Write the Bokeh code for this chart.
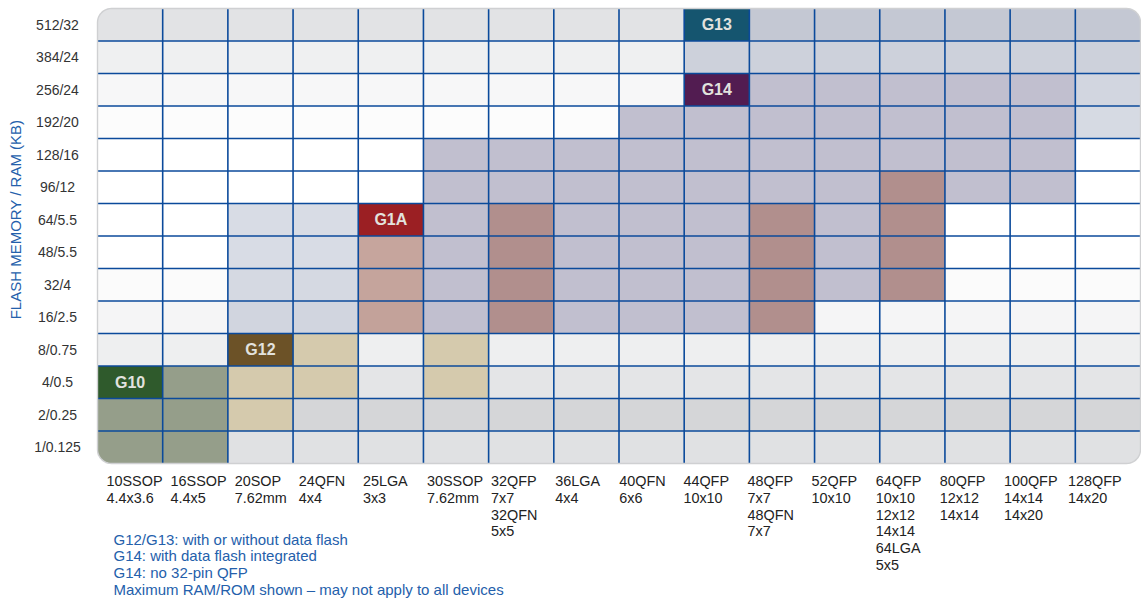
from bokeh.plotting import figure
from bokeh.models import ColumnDataSource, Range1d
from bokeh.embed import file_html
from bokeh.resources import INLINE
from bokeh.core.properties import value
import math

# ---------------- data ----------------
packages = ["10SSOP", "16SSOP", "20SOP", "24QFN", "25LGA", "30SSOP", "32QFP", "36LGA",
            "40QFN", "44QFP", "48QFP", "52QFP", "64QFP", "80QFP", "100QFP", "128QFP"]
package_sizes = ["4.4x3.6", "4.4x5", "7.62mm", "4x4", "3x3", "7.62mm", "7x7\n32QFN\n5x5", "4x4",
                 "6x6", "10x10", "7x7\n48QFN\n7x7", "10x10", "10x10\n12x12\n14x14\n64LGA\n5x5",
                 "12x12\n14x14", "14x14\n14x20", "14x20"]
memory = ["1/0.125", "2/0.25", "4/0.5", "8/0.75", "16/2.5", "32/4", "48/5.5", "64/5.5",
          "96/12", "128/16", "192/20", "256/24", "384/24", "512/32"]

# family coverage: package, lowest memory, highest memory
g10_pkg = ["10SSOP", "16SSOP"]
g10_lo = ["1/0.125", "1/0.125"]
g10_hi = ["4/0.5", "4/0.5"]

g12_pkg = ["20SOP", "24QFN", "30SSOP"]
g12_lo = ["2/0.25", "4/0.5", "4/0.5"]
g12_hi = ["8/0.75", "8/0.75", "8/0.75"]

g13_pkg = ["20SOP", "24QFN", "44QFP", "48QFP", "52QFP", "64QFP", "80QFP", "100QFP", "128QFP"]
g13_lo = ["16/2.5", "16/2.5", "384/24", "384/24", "384/24", "384/24", "384/24", "384/24", "192/20"]
g13_hi = ["64/5.5", "64/5.5", "512/32", "512/32", "512/32", "512/32", "512/32", "512/32", "512/32"]

g14_pkg = ["30SSOP", "32QFP", "36LGA", "40QFN", "44QFP", "48QFP", "52QFP", "64QFP", "80QFP", "100QFP"]
g14_lo = ["16/2.5", "16/2.5", "16/2.5", "16/2.5", "16/2.5", "16/2.5", "32/4", "32/4", "96/12", "96/12"]
g14_hi = ["128/16", "128/16", "128/16", "192/20", "256/24", "256/24", "256/24", "256/24", "256/24", "256/24"]

g1a_pkg = ["25LGA", "32QFP", "48QFP", "64QFP"]
g1a_lo = ["16/2.5", "16/2.5", "16/2.5", "32/4"]
g1a_hi = ["64/5.5", "64/5.5", "64/5.5", "96/12"]

family_names = ["G10", "G12", "G1A", "G13", "G14"]
family_label_pkg = ["10SSOP", "20SOP", "25LGA", "44QFP", "44QFP"]
family_label_mem = ["4/0.5", "8/0.75", "64/5.5", "512/32", "256/24"]

notes = ["G12/G13: with or without data flash",
         "G14: with data flash integrated",
         "G14: no 32-pin QFP",
         "Maximum RAM/ROM shown \u2013 may not apply to all devices"]

y_title = "FLASH MEMORY / RAM (KB)"

# ---------------- styles ----------------
row_bg = ["#e0e1e3", "#d5d6d8", "#e4e5e7", "#eeeff0", "#f5f5f6", "#fbfbfb", "#ffffff",
          "#ffffff", "#ffffff", "#ffffff", "#fcfcfc", "#f7f7f8", "#eff0f1", "#e2e3e5"]
family_dark = {"G10": "#2f5a2c", "G12": "#6c5227", "G1A": "#9b1f23", "G13": "#15556f", "G14": "#521c51"}
GRID = "#0b4a9b"
FONT = "Liberation Sans"

W, H = 1141, 599
GRID_LEFT, GRID_RIGHT, GRID_TOP, GRID_BOTTOM = 97, 1140, 8, 463
RADIUS = 14


def cells(pkgs, los, his):
    xs, ys = [], []
    for pk, lo, hi in zip(pkgs, los, his):
        for r in range(memory.index(lo), memory.index(hi) + 1):
            xs.append(packages.index(pk) + 0.5)
            ys.append(r + 0.5)
    return dict(x=xs, y=ys)


ncol, nrow = len(packages), len(memory)
cw = (GRID_RIGHT - GRID_LEFT) / ncol   # px per column
rh = (GRID_BOTTOM - GRID_TOP) / nrow   # px per row


def px_x(px):
    return (px - GRID_LEFT) / cw


def px_y(py):
    return (GRID_BOTTOM - py) / rh


def arc(cx, cy, t0, t1, n=12):
    return [(cx + RADIUS * math.cos(t0 + (t1 - t0) * k / n), cy + RADIUS * math.sin(t0 + (t1 - t0) * k / n))
            for k in range(n + 1)]


p = figure(width=W, height=H, output_backend="svg", toolbar_location=None,
           x_range=Range1d(px_x(0), px_x(W)), y_range=Range1d(px_y(H), px_y(0)),
           min_border=0, min_border_left=0, min_border_right=0, min_border_top=0, min_border_bottom=0)
p.outline_line_color = None
p.background_fill_color = "white"
p.border_fill_color = "white"
p.xaxis.visible = False
p.yaxis.visible = False
p.xgrid.visible = False
p.ygrid.visible = False

# background rows
p.rect(x=[ncol / 2] * nrow, y=[i + 0.5 for i in range(nrow)], width=ncol, height=1,
       fill_color=row_bg, line_color=None)

# family regions
p.rect(source=ColumnDataSource(cells(g13_pkg, g13_lo, g13_hi)), x="x", y="y", width=1, height=1,
       fill_color="#7d8aa8", fill_alpha=0.3, line_color=None)
p.rect(source=ColumnDataSource(cells(g14_pkg, g14_lo, g14_hi)), x="x", y="y", width=1, height=1,
       fill_color="#c1bfcf", line_color=None)
p.rect(source=ColumnDataSource(cells(g12_pkg, g12_lo, g12_hi)), x="x", y="y", width=1, height=1,
       fill_color="#d5caad", line_color=None)
p.rect(source=ColumnDataSource(cells(g10_pkg, g10_lo, g10_hi)), x="x", y="y", width=1, height=1,
       fill_color="#959e8a", line_color=None)
p.rect(source=ColumnDataSource(cells(g1a_pkg, g1a_lo, g1a_hi)), x="x", y="y", width=1, height=1,
       fill_color="#a8776b", fill_alpha=0.66, line_color=None)

# family label cells
lab_src = ColumnDataSource(dict(
    x=[packages.index(k) + 0.5 for k in family_label_pkg],
    y=[memory.index(m) + 0.5 for m in family_label_mem],
    name=family_names,
    color=[family_dark[n] for n in family_names]))
p.rect(source=lab_src, x="x", y="y", width=1, height=1, fill_color="color", line_color=None)
p.text(source=lab_src, x="x", y="y", text="name", text_align="center",
       text_baseline="middle", text_font=value(FONT), text_font_size="16px",
       text_font_style="bold", text_color="#e2e2de")

# grid lines (interior only)
p.segment(x0=list(range(1, ncol)), x1=list(range(1, ncol)), y0=[0] * (ncol - 1), y1=[nrow] * (ncol - 1),
          line_color=GRID, line_width=1.6)
p.segment(x0=[0] * (nrow - 1), x1=[ncol] * (nrow - 1), y0=list(range(1, nrow)), y1=list(range(1, nrow)),
          line_color=GRID, line_width=1.6)

# rounded panel corners (white masks) and soft edge
L, R, T, B = GRID_LEFT, GRID_RIGHT, GRID_TOP, GRID_BOTTOM
corner_pts = [
    [(L - 1, T - 1)] + arc(L + RADIUS, T + RADIUS, math.pi, 1.5 * math.pi),
    [(R + 1, T - 1)] + arc(R - RADIUS, T + RADIUS, 1.5 * math.pi, 2 * math.pi),
    [(R + 1, B + 1)] + arc(R - RADIUS, B - RADIUS, 0, 0.5 * math.pi),
    [(L - 1, B + 1)] + arc(L + RADIUS, B - RADIUS, 0.5 * math.pi, math.pi),
]
p.patches(xs=[[px_x(a) for a, b in c] for c in corner_pts], ys=[[px_y(b) for a, b in c] for c in corner_pts],
          fill_color="white", line_color=None)
outline = (arc(L + RADIUS, T + RADIUS, math.pi, 1.5 * math.pi) + arc(R - RADIUS, T + RADIUS, 1.5 * math.pi, 2 * math.pi)
           + arc(R - RADIUS, B - RADIUS, 0, 0.5 * math.pi) + arc(L + RADIUS, B - RADIUS, 0.5 * math.pi, math.pi))
outline.append(outline[0])
p.line(x=[px_x(a) for a, b in outline], y=[px_y(b) for a, b in outline],
       line_color="#cfd0d2", line_width=1.4)

# y tick labels
p.text(x=[px_x(57)] * nrow, y=[i + 0.5 for i in range(nrow)], text=memory, text_align="center",
       text_baseline="middle", text_font=value(FONT), text_font_size="14px", text_color="#333333")

# y title
p.text(x=[px_x(15)], y=[px_y(219)], text=[y_title], angle=math.pi / 2, text_align="center",
       text_baseline="middle", text_font=value(FONT), text_font_size="15px", text_color="#2460ab")

# x labels
p.text(x=[px_x(106 + i * 64.1) for i in range(ncol)], y=[px_y(472.5)] * ncol,
       text=[a + "\n" + b for a, b in zip(packages, package_sizes)], text_align="left",
       text_baseline="top", text_font=value(FONT), text_font_size="14.4px",
       text_line_height=1.05, text_color="#222222")

# notes
p.text(x=[px_x(113)] * len(notes), y=[px_y(538.5 + 16.9 * i) for i in range(len(notes))], text=notes,
       text_align="left", text_baseline="middle", text_font=value(FONT), text_font_size="15px",
       text_color="#2460ab")

open("out.html", "w").write(file_html(p, INLINE))
